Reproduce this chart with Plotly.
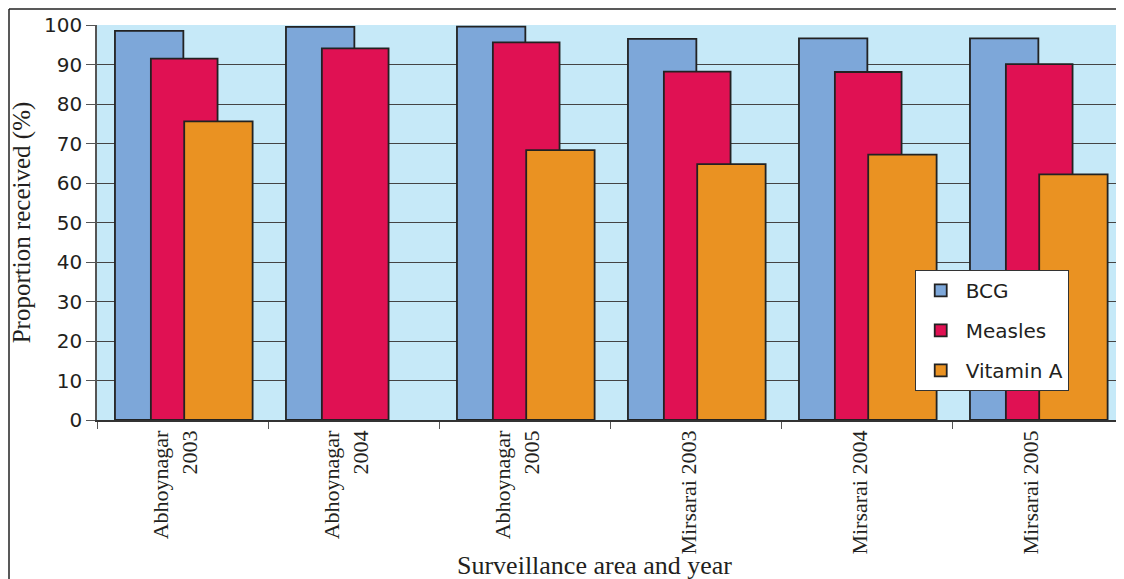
import plotly.graph_objects as go

categories = ["Abhoynagar<br>2003", "Abhoynagar<br>2004", "Abhoynagar<br>2005",
              "Mirsarai 2003", "Mirsarai 2004", "Mirsarai 2005"]
bcg = [98.5, 99.5, 99.6, 96.5, 96.6, 96.6]
measles = [91.5, 94.1, 95.6, 88.2, 88.1, 90.1]
vitamin_a = [75.6, None, 68.3, 64.8, 67.2, 62.2]
y_ticks = list(range(0, 101, 10))
x_title = "Surveillance area and year"

serif = "Liberation Serif, serif"
sans = "DejaVu Sans, sans-serif"
ink = "#231f20"
edge = dict(color="#222222", width=1.8)

fig = go.Figure()
fig.add_trace(go.Bar(x=categories, y=bcg, name="BCG", marker=dict(color="#7DA7D9", line=edge),
                     offset=-0.395, width=0.40, legendgroup="a"))
fig.add_trace(go.Bar(x=categories, y=measles, name="Measles", marker=dict(color="#E01153", line=edge),
                     offset=-0.185, width=0.39, legendgroup="b"))
fig.add_trace(go.Bar(x=categories, y=vitamin_a, name="Vitamin A", marker=dict(color="#EA9222", line=edge),
                     offset=0.01, width=0.40, legendgroup="c"))

# page is offset by the 8px body margin, so the figure is 8px smaller
fig.update_layout(
    width=1116, height=571,
    margin=dict(l=89, r=1, t=17, b=159),
    barmode="overlay",
    paper_bgcolor="white",
    plot_bgcolor="#C6E9F8",
    showlegend=True,
    legend=dict(x=0.797, y=0.38, xanchor="left", yanchor="top",
                bgcolor="white", bordercolor="#333333", borderwidth=1,
                font=dict(family=sans, size=20, color=ink),
                tracegroupgap=11, itemwidth=40),
    xaxis=dict(type="category", tickson="boundaries", ticks="outside", ticklen=7,
               tickcolor="#555555", tickangle=-90, automargin=False,
               tickfont=dict(family=serif, size=22, color=ink), ticklabelshift=-7,
               showgrid=False, showline=True, linecolor="#333333", linewidth=1.5),
    yaxis=dict(range=[0, 100], tickvals=y_ticks, ticks="outside", ticklen=9,
               tickcolor="#555555", tickfont=dict(family=sans, size=20, color=ink),
               automargin=False,
               showgrid=True, gridcolor="#444444", gridwidth=1.2,
               showline=True, linecolor="#555555", linewidth=1.5,
               zeroline=False,
               title=dict(text="Proportion received (%)", font=dict(family=serif, size=25, color=ink),
                          standoff=8)),
)

fig.add_annotation(text=x_title, xref="paper", yref="paper", x=0.485, y=-0.369,
                   xanchor="center", yanchor="middle", showarrow=False,
                   font=dict(family=serif, size=26, color=ink))

fx = -88 / 1026
fy = 1 + 16 / 395
fig.add_shape(type="line", xref="paper", yref="paper", x0=fx, x1=1.01, y0=fy, y1=fy,
              line=dict(color="#222222", width=1.5))
fig.add_shape(type="line", xref="paper", yref="paper", x0=fx, x1=fx, y0=fy, y1=-0.5,
              line=dict(color="#222222", width=1.5))

fig.write_html("out.html")
